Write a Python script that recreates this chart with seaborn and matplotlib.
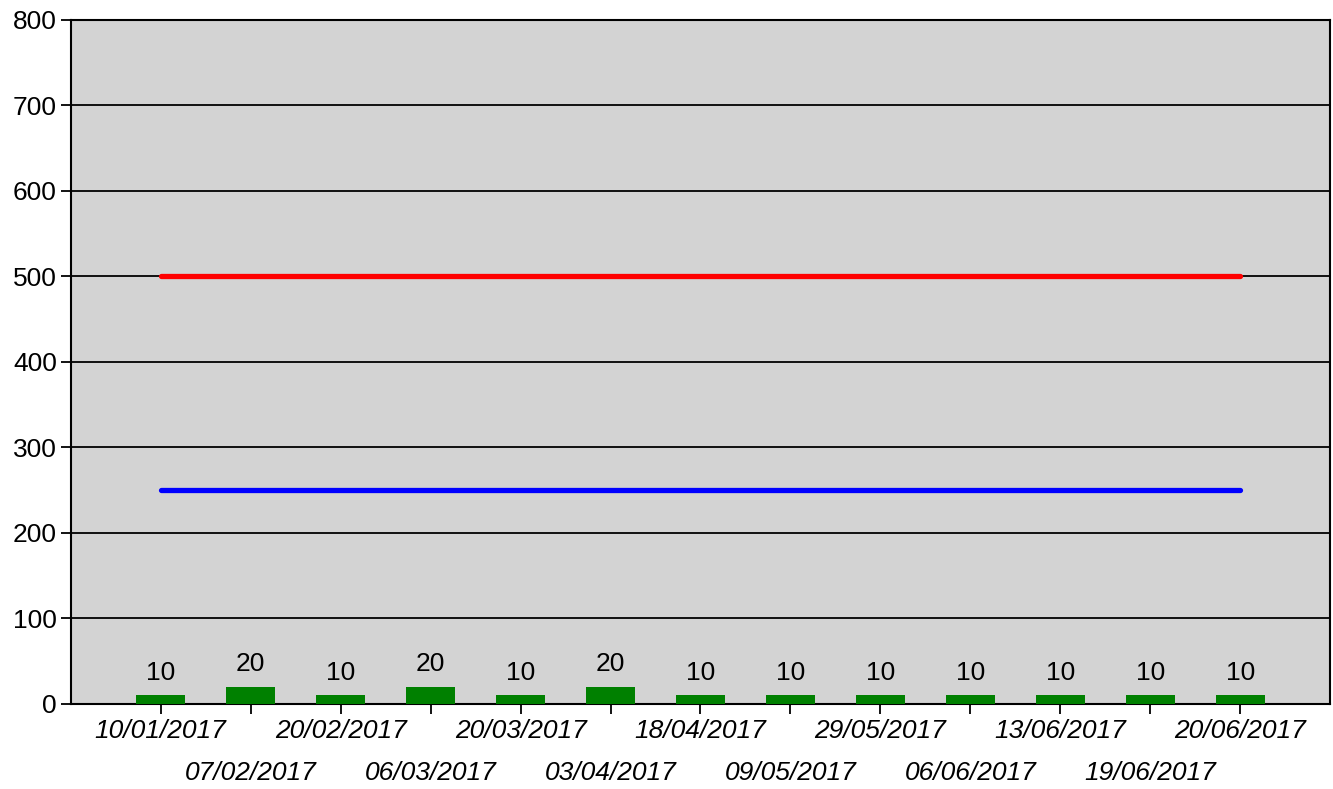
import matplotlib
matplotlib.use('Agg')
import matplotlib.pyplot as plt
import seaborn as sns
import numpy as np
import pandas as pd

dates = ['10/01/2017', '07/02/2017', '20/02/2017', '06/03/2017', '20/03/2017',
         '03/04/2017', '18/04/2017', '09/05/2017', '29/05/2017', '06/06/2017',
         '13/06/2017', '19/06/2017', '20/06/2017']
counts = [10, 20, 10, 20, 10, 20, 10, 10, 10, 10, 10, 10, 10]
upper_limit = [500] * len(dates)
lower_limit = [250] * len(dates)

df = pd.DataFrame({'date': dates, 'count': counts,
                   'upper': upper_limit, 'lower': lower_limit,
                   'pos': np.arange(len(dates))})

sns.set_style('white')
plt.rcParams['font.family'] = ['Liberation Sans', 'DejaVu Sans']
plt.rcParams['text.color'] = 'black'
plt.rcParams['xtick.color'] = 'black'
plt.rcParams['ytick.color'] = 'black'

fig, ax = plt.subplots(figsize=(13.33, 7.89), dpi=100)
fig.subplots_adjust(left=0.053, right=0.998, top=0.975, bottom=0.108)
ax.set_facecolor('#d3d3d3')

sns.barplot(data=df, x='date', y='count', color='#008000', width=0.55,
            saturation=1, edgecolor='none', linewidth=0, ax=ax, zorder=3)
sns.lineplot(data=df, x='pos', y='upper', color='#ff0000', linewidth=3.8,
             ax=ax, zorder=4, solid_capstyle='round')
sns.lineplot(data=df, x='pos', y='lower', color='#0000ff', linewidth=3.8,
             ax=ax, zorder=4, solid_capstyle='round')

# value labels above the bars
for i, v in enumerate(counts):
    ax.text(i, v + 12, str(v), ha='center', va='bottom', fontsize=19, color='black')

ax.set_xlim(-1, 13)
ax.set_ylim(0, 800)
ax.set_yticks(np.arange(0, 801, 100))
ax.yaxis.grid(True, color='black', linewidth=1.3, zorder=1)
ax.set_axisbelow(True)
ax.set_xlabel('')
ax.set_ylabel('')

# staggered x labels - odd ones pushed down a row
ax.set_xticks(np.arange(len(dates)))
ax.set_xticklabels(dates, fontsize=19, style='italic')
ax.tick_params(axis='x', bottom=True, length=7, width=1.3, pad=4, direction='out')
ax.tick_params(axis='y', left=True, length=7, width=1.3, labelsize=19, pad=3, direction='out')
for i, tick in enumerate(ax.xaxis.get_major_ticks()):
    if i % 2 == 1:
        tick.set_pad(34)
for s in ax.spines.values():
    s.set_color('black')
    s.set_linewidth(1.5)

plt.savefig('out.png', dpi=100)
